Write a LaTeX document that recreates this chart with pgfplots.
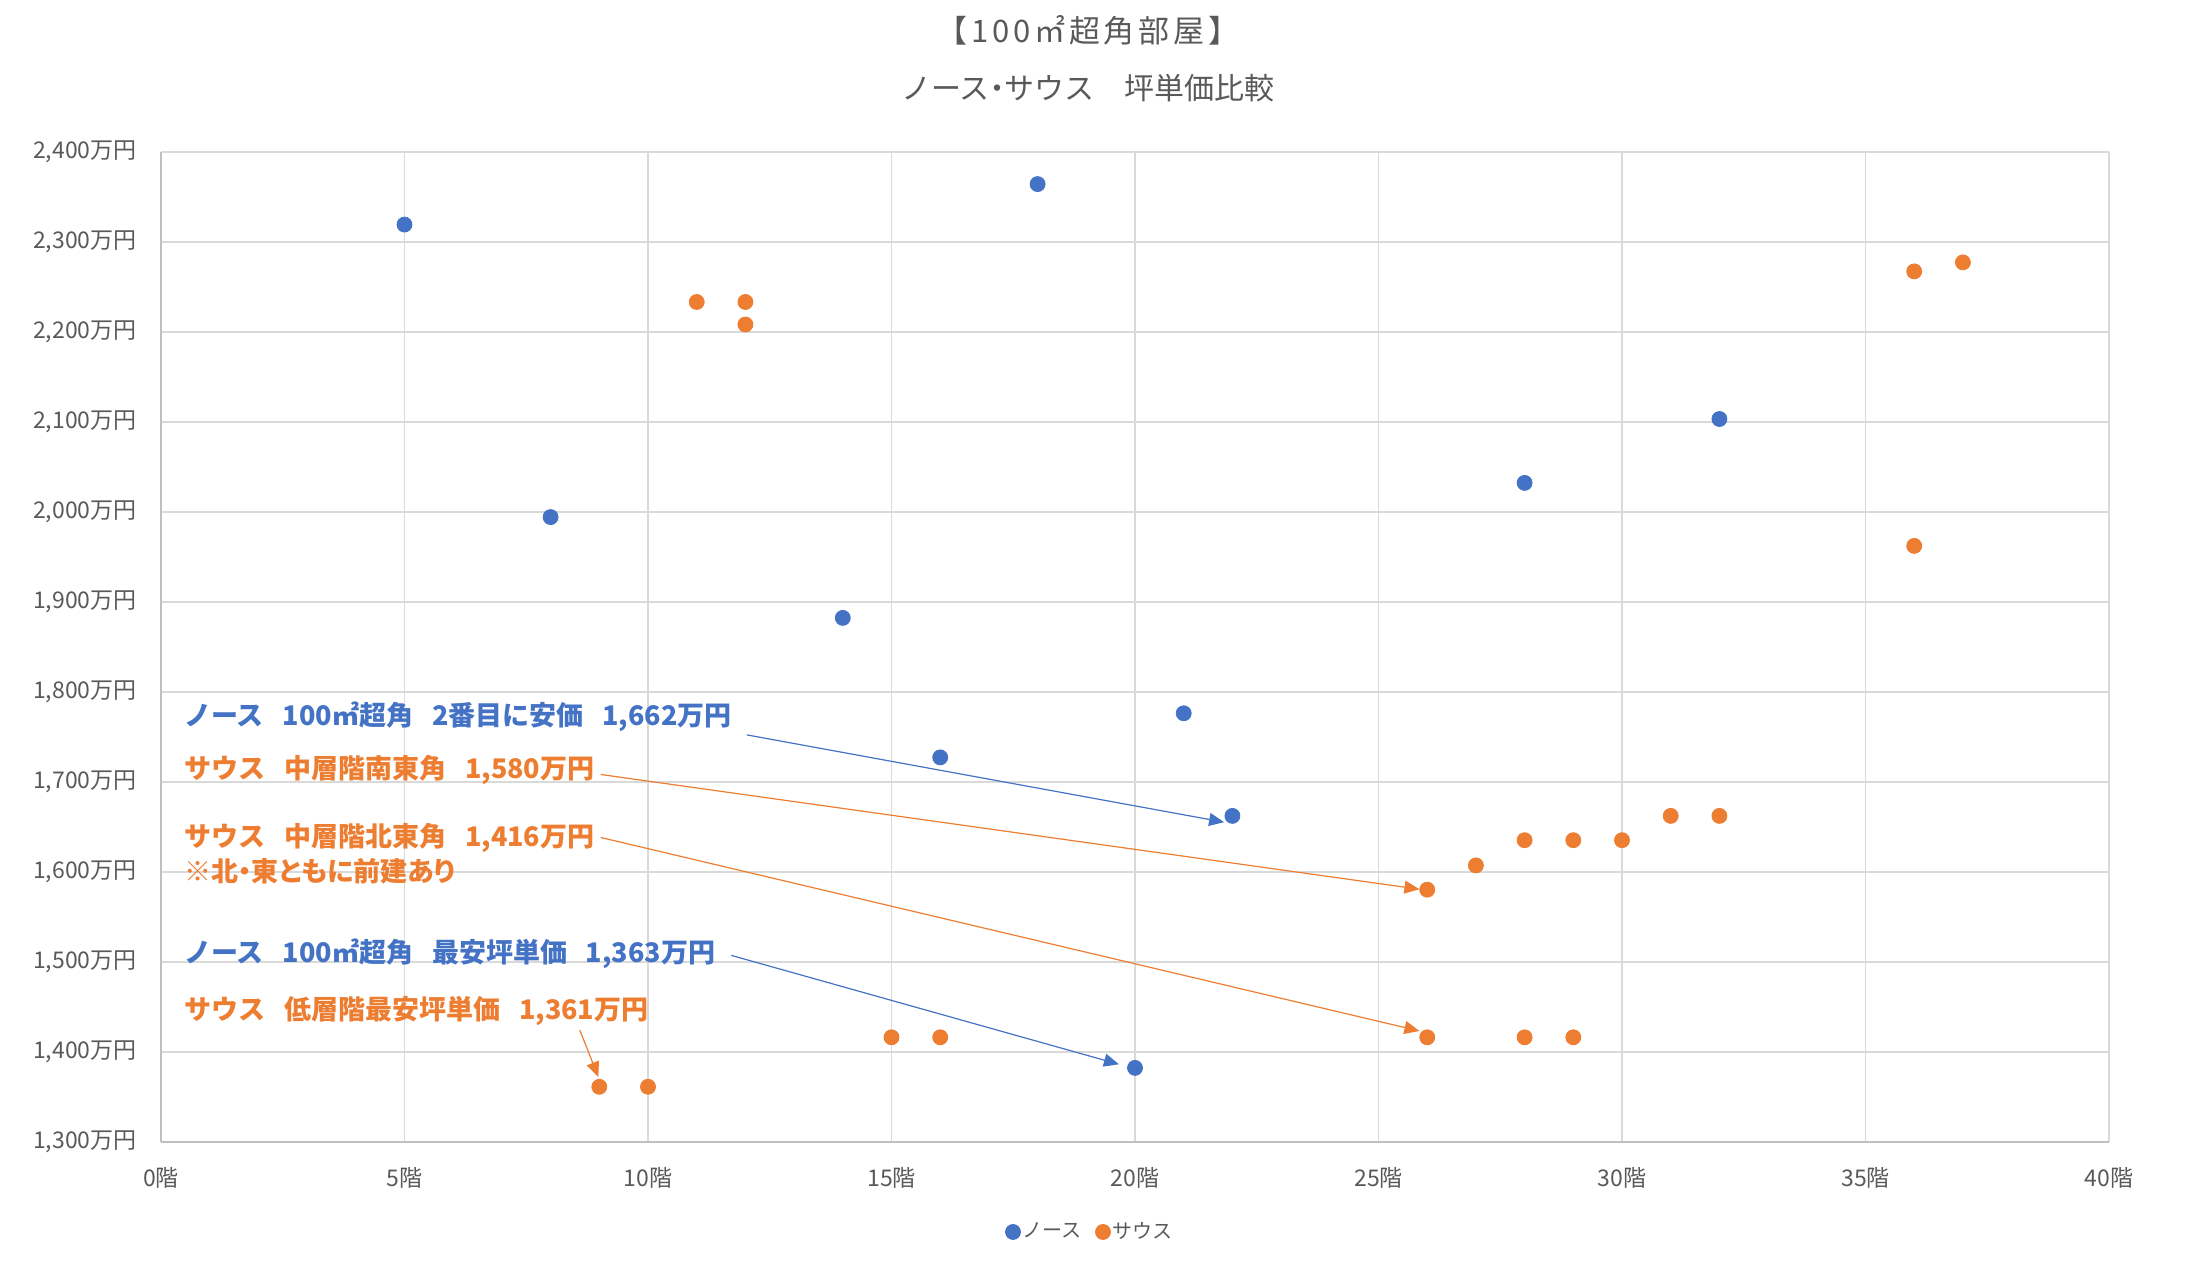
\documentclass[border=0pt]{standalone}
\usepackage{fontspec}
\setmainfont{Noto Sans CJK JP}
\usepackage{pgfplots}
\pgfplotsset{compat=1.18}
\usetikzlibrary{arrows.meta}
\definecolor{nblue}{HTML}{4472C4}
\definecolor{sorange}{HTML}{ED7D31}
\definecolor{gridgray}{HTML}{D9D9D9}
\definecolor{axgray}{HTML}{BFBFBF}
\definecolor{txtgray}{HTML}{595959}
\newcommand{\gap}{\hspace{0.7em}}
\newcommand{\nakaguro}{\makebox[0.5em][c]{・}}
\newcommand{\annfont}{\fontsize{13.5pt}{16pt}\selectfont\bfseries}
\begin{document}
\begin{tikzpicture}
\path[use as bounding box] (0pt,0pt) rectangle (1100pt,631pt);
\node[text=txtgray, font=\fontsize{15.5pt}{17pt}\selectfont\addfontfeature{LetterSpace=12}] at (544pt,616pt) {【100㎡超角部屋】};
\node[text=txtgray, font=\fontsize{15pt}{17pt}\selectfont] at (544pt,587pt) {ノース\nakaguro サウス\hspace{1em}坪単価比較};
\begin{axis}[
  at={(80.5pt,60.15pt)}, anchor=south west,
  scale only axis, width=974pt, height=495pt,
  xmin=0, xmax=40, ymin=1300, ymax=2400,
  xtick={0,5,...,40}, ytick={1300,1400,...,2400},
  axis lines*=left,
  axis line style={draw=axgray, line width=0.85pt},
  grid=major,
  major grid style={draw=gridgray, line width=0.85pt},
  major tick length=0pt,
  /pgf/number format/assume math mode=true,
  xticklabel={\pgfmathprintnumber[fixed,precision=0]{\tick}階},
  yticklabel={\pgfmathprintnumber[fixed,precision=0,1000 sep={,}]{\tick}万円},
  ticklabel style={font=\fontsize{11.5pt}{13pt}\selectfont, text=txtgray},
  xticklabel style={anchor=center, inner sep=0pt, yshift=-18pt},
  yticklabel style={anchor=east, inner sep=0pt, xshift=-12pt},
  clip=false,
  legend columns=2,
  legend style={draw=none, fill=none, at={(0.4769,-0.0912)}, anchor=center,
    font=\fontsize{10pt}{11pt}\selectfont, text=txtgray,
    nodes={inner sep=1pt},
    /tikz/every even column/.append style={column sep=6pt}},
  legend image code/.code={\draw[mark repeat=2,mark phase=2,#1] plot coordinates {(0pt,0pt)(4pt,0pt)(8pt,0pt)};},
]
\addplot[only marks, mark=*, mark size=3.75pt, color=nblue] coordinates {
 (5,2319) (8,1994) (14,1882) (16,1727) (18,2364) (20,1382) (21,1776) (22,1662) (28,2032) (32,2103)
};
\addlegendentry{ノース}
\addplot[only marks, mark=*, mark size=3.75pt, color=sorange] coordinates {
 (9,1361) (10,1361) (11,2233) (12,2233) (12,2208) (15,1416) (16,1416)
 (26,1580) (26,1416) (27,1607) (28,1635) (28,1416) (29,1635) (29,1416)
 (30,1635) (31,1662) (32,1662) (36,2267) (36,1962) (37,2277)
};
\addlegendentry{サウス}
\node[anchor=west, inner sep=0pt, text=nblue, font=\annfont] at (axis cs:0.47,1772) {ノース\gap 100㎡超角\gap 2番目に安価\gap 1,662万円};
\node[anchor=west, inner sep=0pt, text=sorange, font=\annfont] at (axis cs:0.47,1713) {サウス\gap 中層階南東角\gap 1,580万円};
\node[anchor=west, inner sep=0pt, text=sorange, font=\annfont] at (axis cs:0.47,1638) {サウス\gap 中層階北東角\gap 1,416万円};
\node[anchor=west, inner sep=0pt, text=sorange, font=\annfont\addfontfeature{RawFeature=+palt}] at (axis cs:0.47,1600) {※北・東ともに前建あり};
\node[anchor=west, inner sep=0pt, text=nblue, font=\annfont] at (axis cs:0.47,1509) {ノース\gap 100㎡超角\gap 最安坪単価\gap 1,363万円};
\node[anchor=west, inner sep=0pt, text=sorange, font=\annfont] at (axis cs:0.47,1445) {サウス\gap 低層階最安坪単価\gap 1,361万円};
\draw[nblue, line width=0.6pt, -{Triangle[length=7.5pt,width=6.5pt]}] (axis cs:12.03,1752) -- (axis cs:21.83,1655);
\draw[sorange, line width=0.6pt, -{Triangle[length=7.5pt,width=6.5pt]}] (axis cs:9.03,1708) -- (axis cs:25.84,1580.5);
\draw[sorange, line width=0.6pt, -{Triangle[length=7.5pt,width=6.5pt]}] (axis cs:9.03,1638) -- (axis cs:25.84,1423);
\draw[nblue, line width=0.6pt, -{Triangle[length=7.5pt,width=6.5pt]}] (axis cs:11.71,1507) -- (axis cs:19.67,1386);
\draw[sorange, line width=0.6pt, -{Triangle[length=7.5pt,width=6.5pt]}] (axis cs:8.60,1424) -- (axis cs:8.98,1372);
\end{axis}
\end{tikzpicture}
\end{document}
